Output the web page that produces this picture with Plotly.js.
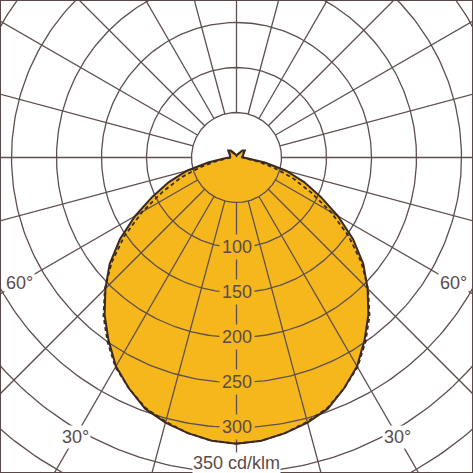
<!DOCTYPE html>
<html>
<head>
<meta charset="utf-8">
<script src="https://cdn.plot.ly/plotly-3.0.1.min.js"></script>
<style>
  html, body { margin: 0; padding: 0; background: #fff; }
  #chart { width: 473px; height: 473px; }
</style>
</head>
<body>
<div id="chart"></div>
<script>
// gamma angle from nadir (deg) and luminous intensity (cd/klm)
const angles = [0, 5, 10, 15, 20, 25, 30, 35, 40, 45, 50, 55, 60, 65, 70, 75, 80, 85, 90,
  100, 110, 120, 130, 140, 150, 160, 170, 180];
const planeSolid = [318, 316, 311, 305, 297, 283, 268, 248, 228, 206, 184, 158, 130, 103, 80, 57, 32, 14, 8,
  7, 8, 10, 12, 10, 6, 4, 3, 2];
const planeDashed = [318, 316, 311, 304, 296, 283, 269, 250, 230, 207, 181, 152, 121, 91, 66, 42, 22, 11, 6,
  6, 7, 9, 11, 9, 5, 3, 2, 2];

const rings = [50, 100, 150, 200, 250, 300, 350, 400, 450, 500];
const ringLabels = ["100", "150", "200", "250", "300"];
const unitLabel = "350 cd/klm";
const angleLabels = [30, 60];

const gridColor = "#5e4f4f";
const textColor = "#5b4b4b";
const fillColor = "#f5b71b";
const rad = Math.PI / 180;

// closed outline, mirrored to both sides of the nadir
function outline(vals) {
  const x = [], y = [];
  for (let i = 0; i < angles.length; i++) {
    x.push(vals[i] * Math.sin(angles[i] * rad));
    y.push(-vals[i] * Math.cos(angles[i] * rad));
  }
  for (let i = angles.length - 1; i >= 0; i--) {
    x.push(-vals[i] * Math.sin(angles[i] * rad));
    y.push(-vals[i] * Math.cos(angles[i] * rad));
  }
  return { x: x, y: y };
}

const solid = outline(planeSolid);
const dashed = outline(planeDashed);

// polar grid: rings and 15 deg spokes starting at the inner ring
let gx = [], gy = [];
rings.forEach((r) => {
  for (let a = 0; a <= 360; a += 1) {
    gx.push(r * Math.sin(a * rad));
    gy.push(r * Math.cos(a * rad));
  }
  gx.push(null); gy.push(null);
});
for (let a = 0; a < 360; a += 15) {
  gx.push(rings[0] * Math.sin(a * rad), 700 * Math.sin(a * rad), null);
  gy.push(rings[0] * Math.cos(a * rad), 700 * Math.cos(a * rad), null);
}

const data = [
  {
    x: solid.x, y: solid.y, type: "scatter", mode: "lines",
    fill: "toself", fillcolor: fillColor, line: { width: 0 }, hoverinfo: "skip"
  },
  {
    x: gx, y: gy, type: "scatter", mode: "lines",
    line: { color: gridColor, width: 1.3 }, hoverinfo: "skip"
  },
  {
    x: dashed.x, y: dashed.y, type: "scatter", mode: "lines",
    line: { color: "#3a2a22", width: 1.8, dash: "4px,3px" }, hoverinfo: "skip"
  },
  {
    x: solid.x, y: solid.y, type: "scatter", mode: "lines",
    line: { color: "#3a2a22", width: 2 }, hoverinfo: "skip"
  }
];

const font = { family: "Liberation Sans, Arial, sans-serif", size: 18, color: textColor };

let annotations = ringLabels.map((t) => ({
  x: 0, y: -Number(t), text: t, showarrow: false, font: font,
  bgcolor: fillColor, borderpad: 2
}));
annotations.push({
  x: 0, y: -339, text: unitLabel, showarrow: false, font: font,
  bgcolor: "#ffffff", borderpad: 0
});
const labelRadius = { 30: 358, 60: 278 };
angleLabels.forEach((a) => {
  [-1, 1].forEach((s) => {
    annotations.push({
      x: s * labelRadius[a] * Math.sin(a * rad),
      y: -labelRadius[a] * Math.cos(a * rad),
      text: a + "°", showarrow: false, font: font,
      bgcolor: "#ffffff", borderpad: 1
    });
  });
});

const layout = {
  width: 473, height: 473,
  margin: { l: 0, r: 0, t: 0, b: 0 },
  paper_bgcolor: "#ffffff", plot_bgcolor: "#ffffff",
  showlegend: false,
  xaxis: { range: [-262.8, 262.8], visible: false, fixedrange: true },
  yaxis: { range: [-350.6, 175], visible: false, fixedrange: true },
  annotations: annotations,
  shapes: [{
    type: "rect", xref: "paper", yref: "paper", x0: 0, y0: 0, x1: 1, y1: 1,
    line: { color: "#5a4848", width: 2 }
  }]
};

Plotly.newPlot("chart", data, layout, { displayModeBar: false, staticPlot: true });
</script>
</body>
</html>
